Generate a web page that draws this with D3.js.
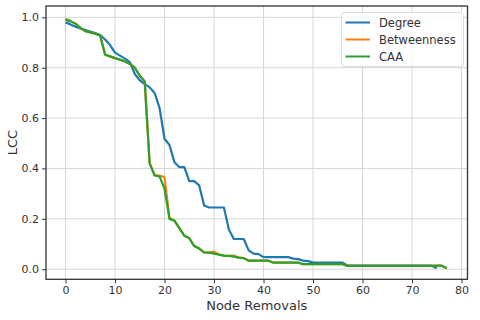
<!DOCTYPE html>
<html lang="en">
<head>
    <meta charset="UTF-8">
    <title>LCC vs Node Removals</title>
    <script src="https://d3js.org/d3.v7.min.js"></script>
    <style>
        body { margin: 0; background: #fff; }
        text { font-family: "DejaVu Sans", sans-serif; fill: #333; }
    </style>
</head>
<body>
<svg></svg>
<script>

    // LCC after n node removals (n = index)
    const degree = [
        0.980, 0.972, 0.963, 0.956, 0.950, 0.944, 0.938, 0.930, 0.912, 0.890,
        0.860, 0.848, 0.836, 0.822, 0.775, 0.750, 0.735, 0.722, 0.700, 0.640,
        0.518, 0.493, 0.425, 0.405, 0.405, 0.350, 0.350, 0.333, 0.253, 0.245,
        0.245, 0.245, 0.245, 0.158, 0.120, 0.120, 0.120, 0.075, 0.062, 0.060,
        0.048, 0.048, 0.048, 0.048, 0.048, 0.048, 0.042, 0.040, 0.034, 0.032,
        0.026, 0.026, 0.026, 0.026, 0.026, 0.026, 0.026, 0.014, 0.014, 0.014,
        0.014, 0.014, 0.014, 0.014, 0.014, 0.014, 0.014, 0.014, 0.014, 0.014,
        0.014, 0.014, 0.014, 0.014, 0.014, 0.004
    ];
    const betweenness = [
        0.992, 0.985, 0.975, 0.958, 0.945, 0.940, 0.935, 0.928, 0.852, 0.845,
        0.838, 0.832, 0.825, 0.815, 0.800, 0.768, 0.745, 0.420, 0.374, 0.372,
        0.365, 0.205, 0.193, 0.163, 0.133, 0.123, 0.092, 0.082, 0.067, 0.066,
        0.070, 0.058, 0.054, 0.053, 0.054, 0.046, 0.044, 0.034, 0.034, 0.034,
        0.034, 0.034, 0.026, 0.026, 0.026, 0.026, 0.026, 0.026, 0.020, 0.020,
        0.020, 0.020, 0.020, 0.020, 0.020, 0.020, 0.020, 0.013, 0.013, 0.013,
        0.013, 0.013, 0.013, 0.013, 0.013, 0.013, 0.013, 0.013, 0.013, 0.013,
        0.013, 0.013, 0.013, 0.013, 0.013, 0.014, 0.014, 0.004
    ];
    const caa = [
        0.992, 0.985, 0.975, 0.958, 0.945, 0.940, 0.935, 0.928, 0.852, 0.845,
        0.838, 0.832, 0.825, 0.815, 0.800, 0.768, 0.745, 0.420, 0.372, 0.368,
        0.320, 0.200, 0.193, 0.163, 0.133, 0.123, 0.092, 0.082, 0.067, 0.066,
        0.062, 0.058, 0.054, 0.053, 0.050, 0.046, 0.044, 0.034, 0.034, 0.034,
        0.034, 0.034, 0.026, 0.026, 0.026, 0.026, 0.026, 0.026, 0.020, 0.020,
        0.020, 0.020, 0.020, 0.020, 0.020, 0.020, 0.020, 0.013, 0.013, 0.013,
        0.013, 0.013, 0.013, 0.013, 0.013, 0.013, 0.013, 0.013, 0.013, 0.013,
        0.013, 0.013, 0.013, 0.013, 0.013, 0.014, 0.014, 0.004
    ];

    const seriesNames = ["Degree", "Betweenness", "CAA"];
    const seriesData = [degree, betweenness, caa];
    const colors = ["#1f77b4", "#ff7f0e", "#2ca02c"];

    const xTicks = [0, 10, 20, 30, 40, 50, 60, 70, 80];
    const yTicks = [0.0, 0.2, 0.4, 0.6, 0.8, 1.0];

    const width = 480;
    const height = 320;
    const plotLeft = 46, plotRight = 467.5, plotTop = 6, plotBottom = 279.3;

    const svg = d3.select("svg")
        .attr("width", width)
        .attr("height", height);

    const xScale = d3.scaleLinear()
        .domain([-3.94, 81.2])
        .range([plotLeft, plotRight]);

    const yScale = d3.scaleLinear()
        .domain([-0.04, 1.045])
        .range([plotBottom, plotTop]);

    // grid
    svg.append("g")
        .selectAll("line")
        .data(xTicks)
        .join("line")
        .attr("x1", d => xScale(d)).attr("x2", d => xScale(d))
        .attr("y1", plotTop).attr("y2", plotBottom)
        .style("stroke", "#d6d6d6")
        .style("stroke-width", 1);

    svg.append("g")
        .selectAll("line")
        .data(yTicks)
        .join("line")
        .attr("x1", plotLeft).attr("x2", plotRight)
        .attr("y1", d => yScale(d)).attr("y2", d => yScale(d))
        .style("stroke", "#d6d6d6")
        .style("stroke-width", 1);

    // lines
    const line = d3.line()
        .x((d, i) => xScale(i))
        .y(d => yScale(d));

    svg.append("g")
        .selectAll("path")
        .data(seriesData)
        .join("path")
        .attr("d", d => line(d))
        .style("fill", "none")
        .style("stroke", (d, i) => colors[i])
        .style("stroke-width", 2.2)
        .style("stroke-linejoin", "round");

    // axes
    const xAxis = d3.axisBottom(xScale).tickValues(xTicks).tickSize(4).tickPadding(3);
    svg.append("g")
        .attr("transform", `translate(0, ${plotBottom})`)
        .call(xAxis)
        .call(g => g.select(".domain").remove())
        .call(g => g.selectAll(".tick line").style("stroke", "#333"))
        .call(g => g.selectAll(".tick text")
            .style("font-size", "11px")
            .style("font-family", "DejaVu Sans")
            .style("fill", "#333"));

    const yAxis = d3.axisLeft(yScale).tickValues(yTicks).tickFormat(d3.format(".1f")).tickSize(4).tickPadding(3);
    svg.append("g")
        .attr("transform", `translate(${plotLeft}, 0)`)
        .call(yAxis)
        .call(g => g.select(".domain").remove())
        .call(g => g.selectAll(".tick line").style("stroke", "#333"))
        .call(g => g.selectAll(".tick text")
            .style("font-size", "11px")
            .style("font-family", "DejaVu Sans")
            .style("fill", "#333"));

    // frame
    svg.append("rect")
        .attr("x", plotLeft).attr("y", plotTop)
        .attr("width", plotRight - plotLeft).attr("height", plotBottom - plotTop)
        .style("fill", "none")
        .style("stroke", "#333")
        .style("stroke-width", 1.3);

    // axis labels
    svg.append("text")
        .attr("x", (plotLeft + plotRight) / 2)
        .attr("y", 310)
        .attr("text-anchor", "middle")
        .style("font-size", "13px")
        .text("Node Removals");

    svg.append("text")
        .attr("transform", `translate(17, ${(plotTop + plotBottom) / 2}) rotate(-90)`)
        .attr("text-anchor", "middle")
        .style("font-size", "13px")
        .text("LCC");

    // legend
    const legend = svg.append("g");
    legend.append("rect")
        .attr("x", 341.5).attr("y", 12.5)
        .attr("width", 122).attr("height", 54)
        .attr("rx", 3)
        .style("fill", "rgba(255,255,255,0.8)")
        .style("stroke", "#dcdcdc")
        .style("stroke-width", 1);

    const entries = legend.selectAll("g.entry")
        .data(seriesNames)
        .join("g")
        .attr("class", "entry")
        .attr("transform", (d, i) => `translate(0, ${22.5 + i * 17})`);

    entries.append("line")
        .attr("x1", 345.5).attr("x2", 370)
        .attr("y1", 0).attr("y2", 0)
        .style("stroke", (d, i) => colors[i])
        .style("stroke-width", 2);

    entries.append("text")
        .attr("x", 379)
        .attr("y", 4)
        .style("font-size", "11.5px")
        .text(d => d);

</script>
</body>
</html>
